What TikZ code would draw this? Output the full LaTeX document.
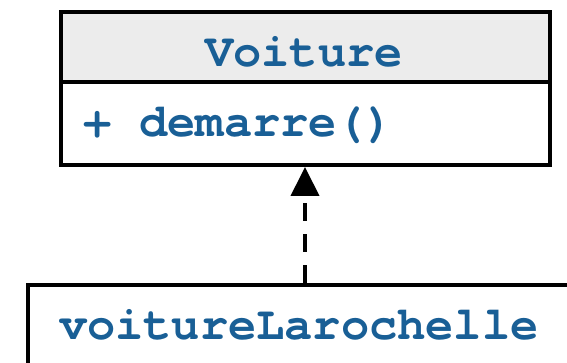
\documentclass[tikz,border=0pt]{standalone}
\usepackage{fontspec}
\setmonofont{TeX Gyre Cursor}
\usetikzlibrary{arrows.meta}
\definecolor{umlblue}{RGB}{25,95,150}
\definecolor{hdrgrey}{RGB}{236,236,236}
\tikzset{
  umlbox/.style={draw=black, line width=4pt, inner sep=0pt, outer sep=2pt},
  umltext/.style={text=umlblue, font=\ttfamily\bfseries\fontsize{47}{56}\selectfont, inner sep=0pt, outer sep=0pt},
  realize/.style={draw=black, line width=4pt, dash pattern=on 18pt off 13pt,
    -{Triangle[length=29pt,width=28pt]}}
}
\begin{document}
\begin{tikzpicture}[x=1pt, y=-1pt]
  \useasboundingbox (0,0) rectangle (567,363);
  \fill[white] (0,0) rectangle (567,363);
  \clip (0,0) rectangle (567,363);
  % class Voiture
  \node[umlbox, fill=hdrgrey, minimum width=489pt, minimum height=70.5pt] (hdr) at (305,47.25) {};
  \node[umlbox, fill=white, minimum width=489pt, minimum height=82.5pt] (body) at (305,123.75) {};
  \node[umltext, anchor=base] (title) at (304,66.5) {Voiture};
  \node[umltext, anchor=base west] (op) at (83,137) {+ demarre()};
  % instance
  \node[umlbox, fill=white, minimum width=612pt, minimum height=135pt] (inst) at (334,352.5) {};
  \node[umltext, anchor=base west] (instname) at (59,339) {voitureLarochelle};
  % realization arrow
  \draw[realize] (inst.north west -| body.south) -- (body.south);
\end{tikzpicture}
\end{document}
